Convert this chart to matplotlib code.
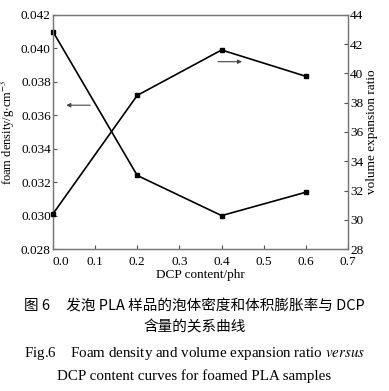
import matplotlib
matplotlib.use("Agg")
import matplotlib.pyplot as plt

plt.rcParams['font.family'] = ['Liberation Serif', 'Noto Sans CJK SC']
plt.rcParams['mathtext.fontset'] = 'stix'

dcp = [0.0, 0.2, 0.4, 0.6]
density = [0.0410, 0.0324, 0.0300, 0.0314]
expansion = [30.4, 38.5, 41.6, 39.8]

x_ticks = [0.0, 0.1, 0.2, 0.3, 0.4, 0.5, 0.6, 0.7]
d_ticks = [0.028, 0.030, 0.032, 0.034, 0.036, 0.038, 0.040, 0.042]
e_ticks = [28, 30, 32, 34, 36, 38, 40, 42, 44]

fig = plt.figure(figsize=(3.89, 3.91), dpi=100)
ax = fig.add_axes([0.136, 0.363, 0.759, 0.599])
ax2 = ax.twinx()

ax.plot(dcp, density, color="black", lw=1.2, marker="s", ms=3.5, clip_on=False, zorder=5)
ax2.plot(dcp, expansion, color="black", lw=1.2, marker="s", ms=3.5, clip_on=False, zorder=5)

ax.set_xlim(0, 0.7)
ax.set_ylim(0.028, 0.042)
ax2.set_ylim(28, 44)
ax.set_xticks(x_ticks)
ax.set_xticklabels(["%.1f" % v for v in x_ticks])
ax.set_yticks(d_ticks)
ax.set_yticklabels(["%.3f" % v for v in d_ticks])
ax2.set_yticks(e_ticks)

for a in (ax, ax2):
    a.tick_params(direction="in", length=3, width=0.8, labelsize=9.5, color="#555555", pad=1.5)
    for s in a.spines.values():
        s.set_color("#777777")
        s.set_linewidth(0.9)
ax.tick_params(axis="x", pad=5)

# first x label sits a little right of the corner, as in the original
ax.get_xticklabels()[0].set_horizontalalignment("left")
ax.get_xticklabels()[0].set_x(-0.005)

ax.set_xlabel("DCP content/phr", fontsize=9.5, labelpad=1)
ax.set_ylabel(r"foam density/g$\cdot$cm$^{-3}$", fontsize=9, labelpad=3)
ax2.set_ylabel("volume expansion ratio", fontsize=9.5, labelpad=2)

# arrows pointing to the axis each curve belongs to
ax.annotate("", xy=(0.025, 0.0366), xytext=(0.095, 0.0366),
            arrowprops=dict(arrowstyle="-|>", color="#444444", lw=0.8, mutation_scale=6))
ax2.annotate("", xy=(0.455, 40.8), xytext=(0.385, 40.8),
             arrowprops=dict(arrowstyle="-|>", color="#444444", lw=0.8, mutation_scale=6))

cjk = ['Noto Sans CJK SC', 'Liberation Serif']
fig.text(0.5, 0.218, "图 6     发泡 PLA 样品的泡体密度和体积膨胀率与 DCP", ha="center", va="center",
         fontsize=10.5, family=cjk)
fig.text(0.5, 0.163, "含量的关系曲线", ha="center", va="center", fontsize=10.5, family=cjk)
fig.text(0.5, 0.097, "Fig.6    Foam density and volume expansion ratio $\\it{versus}$",
         ha="center", va="center", fontsize=10.8)
fig.text(0.5, 0.038, "DCP content curves for foamed PLA samples", ha="center", va="center", fontsize=10.8)

fig.savefig("out.png", dpi=100)
